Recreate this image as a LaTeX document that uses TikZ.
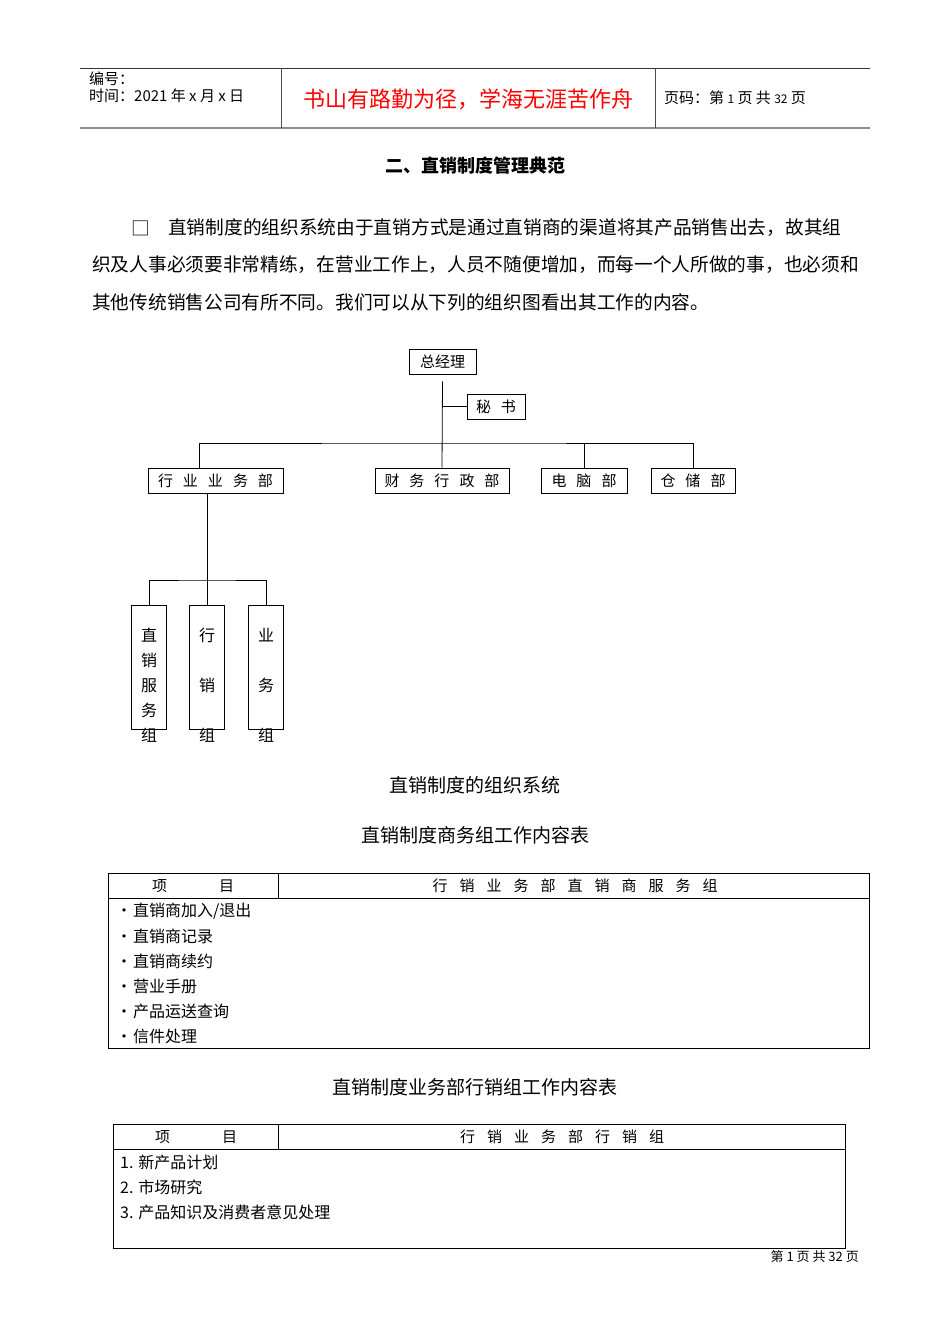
\documentclass[tikz,border=0pt]{standalone}
\usepackage{fontspec}
\setmainfont{Noto Sans CJK SC}
\newcommand\fs[1]{\fontsize{#1pt}{#1pt}\selectfont}
\newcommand\gp{\hspace{10pt}}
\newcommand\gq{\hspace{12pt}}
\newcommand\lowr[1]{\raisebox{-3pt}{#1}}
\begin{document}
\begin{tikzpicture}[x=1pt,y=-1pt,
  lbl/.style={inner sep=0pt},
  box/.style={draw,line width=0.8pt,inner sep=0pt,minimum height=25pt,font=\fs{15}},
  vbox/.style={draw,line width=0.8pt,inner sep=0pt,minimum width=35pt,minimum height=124pt},
  vlbl/.style={inner sep=0pt,align=center,font=\fontsize{16pt}{25pt}\selectfont},
  link/.style={line width=0.8pt},
  tblrule/.style={line width=0.7pt},
  body/.style={inner sep=0pt,anchor=west,font=\fs{18.7}},
  captxt/.style={inner sep=0pt,font=\fs{19}},
  cell/.style={inner sep=0pt,anchor=west,font=\fs{16}},
  head/.style={inner sep=0pt,font=\fs{15}}]
\useasboundingbox (0,0) rectangle (950,1344);
\fill[white] (0,0) rectangle (950,1344);
% page header
\draw[line width=0.8pt,black!80] (80,68) -- (870,68);
\draw[line width=2pt,black!45] (80,128) -- (870,128);
\draw[line width=0.7pt,black!70] (281,68) -- (281,128);
\draw[line width=0.7pt,black!70] (655,68) -- (655,128);
\node[lbl,anchor=west,font=\fs{15}] (bh) at (89,79) {编号：};
\node[lbl,anchor=west,font=\fs{15}] (sj) at (89,96) {时间：2021 年 x 月 x 日};
\node[lbl,font=\fs{22},text=red] (motto) at (468,99) {书山有路勤为径，学海无涯苦作舟};
\node[lbl,anchor=west,font=\fs{15}] (ym) at (664,98) {页码：第 {\fs{12}1} 页 共 {\fs{12}32} 页};
% title and paragraph
\node[lbl,font=\fs{18}\bfseries] (title) at (475,166) {二、直销制度管理典范};
\node[body] (p0) at (131,228) {□};
\node[body] (p1) at (168,228) {直销制度的组织系统由于直销方式是通过直销商的渠道将其产品销售出去，故其组};
\node[body] (p2) at (92,265) {织及人事必须要非常精练，在营业工作上，人员不随便增加，而每一个人所做的事，也必须和};
\node[body] (p3) at (92,302) {其他传统销售公司有所不同。我们可以从下列的组织图看出其工作的内容。};
% org chart
\node[box,minimum width=67pt] (zjl) at (442.5,361.5) {总经理};
\node[box,minimum width=58pt] (ms) at (496,406.5) {\lowr{秘\gp 书}};
\node[box,minimum width=135pt] (hy) at (215.5,480.5) {\lowr{行\gp 业\gp 业\gp 务\gp 部}};
\node[box,minimum width=134pt] (cw) at (442,480.5) {\lowr{财\gp 务\gp 行\gp 政\gp 部}};
\node[box,minimum width=86pt] (dn) at (584,480.5) {\lowr{电\gp 脑\gp 部}};
\node[box,minimum width=84pt] (cc) at (693,480.5) {\lowr{仓\gp 储\gp 部}};
\coordinate (bus) at (442,443);
\draw[link] ([yshift=-7pt]zjl.south) -- (cw.north);
\draw[link] (ms.west) -- (ms.west -| cw.north);
\draw[link] ([xshift=-16.5pt]hy.north) |- (bus) -| (cc.north);
\draw[link] (dn.north) -- (dn.north |- bus);
\node[vbox] (g1) at (149,667) {};
\node[vbox] (g2) at (207,667) {};
\node[vbox] (g3) at (266,667) {};
\coordinate (gbus) at (207,580);
\draw[link] (g2.north |- hy.south) -- (g2.north);
\draw[link] (g1.north) |- (gbus) -| (g3.north);
\node[vlbl] (t1) at (149,685) {直\\销\\服\\务\\组};
\node[vlbl] (t2) at (207,685) {行\\\\销\\\\组};
\node[vlbl] (t3) at (266,685) {业\\\\务\\\\组};
\node[captxt] (c1) at (475,785) {直销制度的组织系统};
\node[captxt] (c2) at (475,835) {直销制度商务组工作内容表};
% table 1
\draw[tblrule] (108,873) rectangle (869,1048);
\draw[tblrule] (108,898) -- (869,898);
\draw[tblrule] (278,873) -- (278,898);
\node[head] (h1a) at (193,886) {项\hspace{52pt}目};
\node[head] (h1b) at (575,886) {行\gq 销\gq 业\gq 务\gq 部\gq 直\gq 销\gq 商\gq 服\gq 务\gq 组};
\node[cell] (r1) at (116,911) {•\hspace{1pt}直销商加入/退出};
\node[cell] (r2) at (116,936) {•\hspace{1pt}直销商记录};
\node[cell] (r3) at (116,961) {•\hspace{1pt}直销商续约};
\node[cell] (r4) at (116,986) {•\hspace{1pt}营业手册};
\node[cell] (r5) at (116,1011) {•\hspace{1pt}产品运送查询};
\node[cell] (r6) at (116,1036) {•\hspace{1pt}信件处理};
\node[captxt] (c3) at (475,1087) {直销制度业务部行销组工作内容表};
% table 2
\draw[tblrule] (113,1124) rectangle (845,1248);
\draw[tblrule] (113,1149) -- (845,1149);
\draw[tblrule] (278,1124) -- (278,1149);
\node[head] (h2a) at (196,1137) {项\hspace{52pt}目};
\node[head] (h2b) at (562,1137) {行\gq 销\gq 业\gq 务\gq 部\gq 行\gq 销\gq 组};
\node[cell] (s1) at (120,1162) {1. 新产品计划};
\node[cell] (s2) at (120,1187) {2. 市场研究};
\node[cell] (s3) at (120,1212) {3. 产品知识及消费者意见处理};
\node[lbl,anchor=east,font=\fs{13}] (foot) at (859,1257) {第 1 页 共 32 页};
\end{tikzpicture}
\end{document}
